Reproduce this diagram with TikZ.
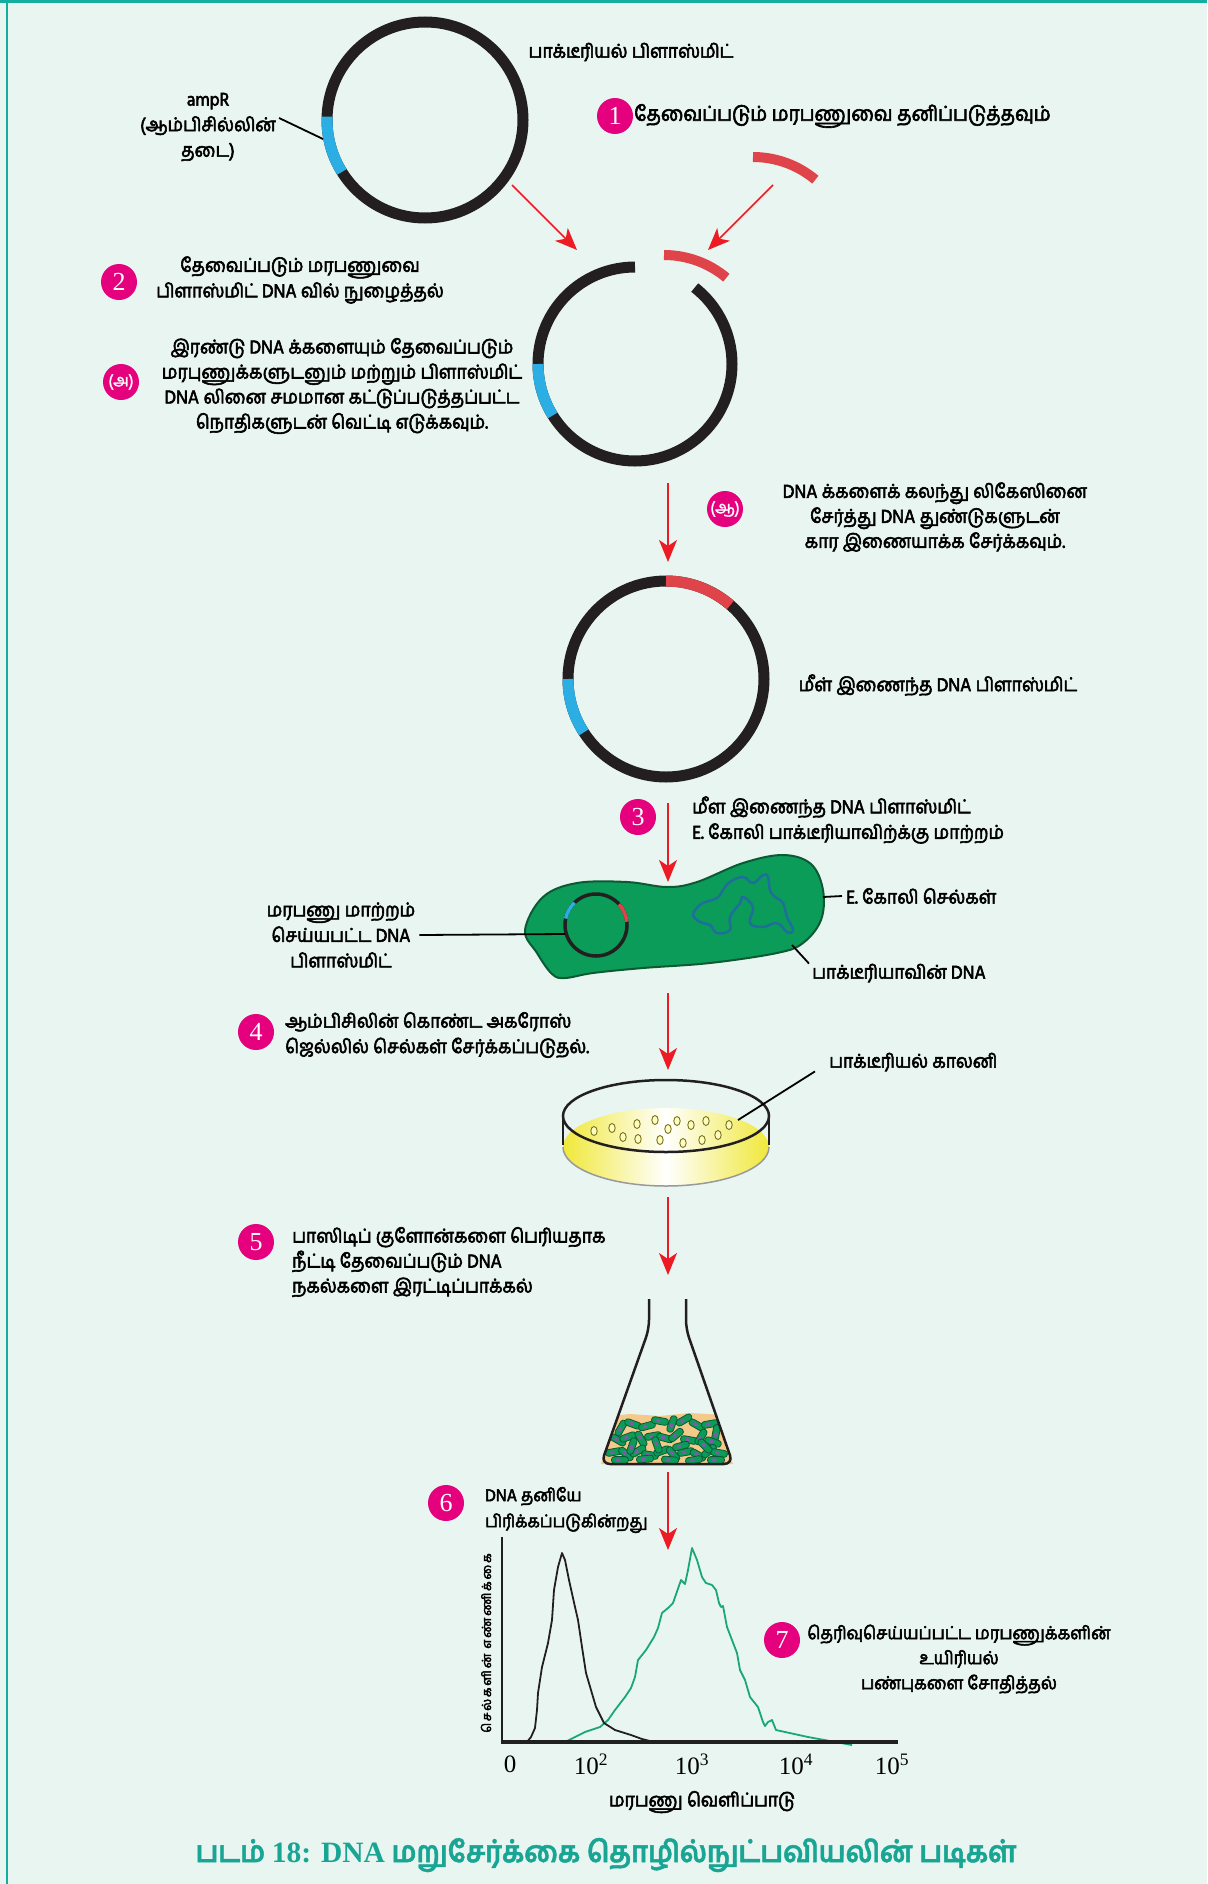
\documentclass[tikz,border=0pt]{standalone}
\usepackage{fontspec}
\setmainfont{Liberation Serif}
\newfontfamily\tamil[Script=Tamil,FakeStretch=0.92,FakeBold=3]{Hind Madurai}
\newfontfamily\tamilcap[Script=Tamil,FakeStretch=0.92,FakeBold=1.5]{Hind Madurai}
\newfontfamily\tamilaxis[Script=Tamil,LetterSpace=14,FakeBold=3]{Hind Madurai}
\usetikzlibrary{arrows.meta,positioning}

\definecolor{bgmint}{HTML}{E9F5F1}
\definecolor{frameteal}{HTML}{14AE9E}
\definecolor{dnablack}{HTML}{231F20}
\definecolor{insertred}{HTML}{E0444B}
\definecolor{amblue}{HTML}{2AAEE3}
\definecolor{arrowred}{HTML}{ED1C24}
\definecolor{stepmag}{HTML}{E5007E}
\definecolor{cellgreen}{HTML}{0A9C58}
\definecolor{celledge}{HTML}{0C5A33}
\definecolor{chromblue}{HTML}{1E6F9B}
\definecolor{agar}{HTML}{F0E83A}
\definecolor{broth}{HTML}{F4C98A}
\definecolor{rodpurple}{HTML}{7E5BA8}
\definecolor{curvegreen}{HTML}{19A77A}
\definecolor{captionteal}{HTML}{18A593}

\tikzset{
  txt/.style={font=\tamil\fontsize{19}{25.5}\selectfont, inner sep=0pt, align=center},
  ltxt/.style={txt, align=left, anchor=west},
  badge/.style={circle, fill=stepmag, text=white, minimum size=36pt, inner sep=0pt,
    font=\fontsize{26}{26}\selectfont},
  ring/.style={line width=11pt, draw=dnablack},
  arrowstep/.style={draw=arrowred, line width=1.6pt, -{Stealth[length=22pt,width=18pt,inset=6pt]}},
  leader/.style={draw=black, line width=1.8pt},
  colony/.style={draw=olive!80!black, fill=yellow!25, line width=0.9pt},
  rod/.style={draw=celledge, fill=cellgreen, line width=0.8pt, rounded corners=3pt},
}

\begin{document}
\begin{tikzpicture}[x=1pt, y=-1pt]
  % page and frame
  \fill[bgmint] (0,0) rectangle (1207,1884);
  \useasboundingbox (0,0) rectangle (1207,1884);
  \draw[frameteal, line width=3pt] (0,1.5) -- (1207,1.5);
  \draw[frameteal, line width=2.5pt] (7,0) -- (7,1884);

  % bacterial plasmid
  \coordinate (p1) at (425,120);
  \draw[ring] (p1) circle[radius=98pt];
  \draw[ring, amblue] (p1) ++(178:98pt) arc[start angle=178, end angle=212, radius=98pt];
  % isolated gene
  \draw[ring, insertred, line width=10pt] (753,254) ++(90:97pt) arc[start angle=90, end angle=50, radius=97pt];

  % opened plasmid with insert
  \coordinate (p2) at (635,364);
  \draw[ring] (p2) ++(90:97pt) arc[start angle=90, end angle=412, radius=97pt];
  \draw[ring, amblue] (p2) ++(180:97pt) arc[start angle=180, end angle=212, radius=97pt];
  \draw[ring, insertred, line width=10pt] (664,352) ++(90:97pt) arc[start angle=90, end angle=50, radius=97pt];

  % recombinant plasmid
  \coordinate (p3) at (666,679);
  \draw[ring] (p3) circle[radius=98pt];
  \draw[ring, insertred] (p3) ++(90:98pt) arc[start angle=90, end angle=49, radius=98pt];
  \draw[ring, amblue] (p3) ++(180:98pt) arc[start angle=180, end angle=213, radius=98pt];

  % E. coli cell
  \draw[fill=cellgreen, draw=celledge, line width=2pt] plot[smooth cycle, tension=0.6] coordinates {
    (525,930) (537,953) (552,974) (565,978) (593,973) (643,968) (710,963) (777,953)
    (803,943) (821,920) (823,890) (811,864) (783,855) (743,863) (697,882) (667,887)
    (627,882) (577,883) (543,897)};
  \draw[chromblue, line width=2.5pt] plot[smooth cycle, tension=0.7] coordinates {
    (697,908) (703,903) (717,898) (723,890) (730,882) (743,877) (753,883) (763,875)
    (768,877) (770,890) (775,897) (783,903) (787,917) (793,930) (787,932) (777,923)
    (763,927) (750,923) (753,907) (743,897) (740,903) (730,917) (730,930) (717,933)
    (710,925) (700,922) (693,915)};
  \coordinate (p4) at (596,925);
  \draw[dnablack, line width=3.5pt] (p4) circle[radius=31pt];
  \draw[amblue, line width=3.5pt] (p4) ++(134:31pt) arc[start angle=134, end angle=168, radius=31pt];
  \draw[insertred, line width=3.5pt] (p4) ++(6:31pt) arc[start angle=6, end angle=42, radius=31pt];

  % petri dish
  \shade[left color=agar, right color=agar, middle color=white] (666,1147) ellipse[x radius=103pt, y radius=39pt];
  \draw[gray!80, line width=1.5pt] (563,1147) arc[start angle=180, end angle=360, x radius=103pt, y radius=39pt];
  \foreach \x/\y in {594/1131, 612/1128, 637/1124, 655/1120, 677/1121, 668/1129, 691/1125, 706/1121,
      729/1125, 623/1137, 638/1139, 660/1140, 683/1143, 702/1140, 718/1135}
    \draw[colony] (\x,\y) ellipse[x radius=3.2pt, y radius=4.5pt];
  \draw[dnablack, line width=2.5pt] (666,1116) ellipse[x radius=103pt, y radius=36pt];
  \draw[dnablack, line width=2.5pt] (563,1116) -- (563,1145);
  \draw[dnablack, line width=2.5pt] (769,1116) -- (769,1145);

  % flask with culture
  \begin{scope}
    \clip (649,1329) -- (601,1464) -- (733,1464) -- (686,1329) -- cycle;
    \fill[broth] (600,1417) -- (630,1414) -- (660,1416) -- (690,1413) -- (740,1416) -- (740,1470) -- (600,1470) -- cycle;
    \foreach \x/\y/\a in {621/1428/60, 633/1424/-20, 647/1426/15, 660/1421/-10, 672/1424/70,
        684/1420/30, 697/1425/-30, 710/1424/10, 716/1433/80, 618/1440/-30, 628/1437/20,
        641/1439/-60, 653/1436/10, 665/1438/-15, 676/1435/40, 689/1440/-10, 701/1437/60,
        713/1442/-20, 614/1452/10, 626/1454/-40, 638/1451/30, 650/1455/-10, 662/1451/20,
        673/1454/-50, 686/1452/10, 698/1455/-30, 709/1451/40, 719/1453/-10, 632/1446/70,
        657/1445/-70, 681/1446/15, 705/1446/-45, 645/1459/5, 670/1460/-5, 694/1460/10,
        620/1460/0, 716/1460/0}
    {
      \begin{scope}[shift={(\x,\y)}, rotate=\a]
        \draw[rod] (-8.5,-3.4) rectangle (8.5,3.4);
        \fill[rodpurple, rounded corners=1pt] (-4,-1.6) rectangle (0.5,1.6);
      \end{scope}
    }
  \end{scope}
  \draw[dnablack, line width=2.5pt, rounded corners=9pt]
    (649,1299) -- (649,1329) -- (601,1464) -- (733,1464) -- (686,1329) -- (686,1299);

  % histogram of expression
  \draw[dnablack, line width=2pt] (502,1537) -- (502,1742);
  \draw[curvegreen, line width=1.8pt, line join=round] plot coordinates {
    (565,1742) (585,1732) (600,1727) (608,1720) (615,1710) (625,1697) (631,1688) (635,1677)
    (638,1660) (646,1650) (654,1637) (658,1628) (662,1613) (668,1608) (673,1603) (681,1580)
    (685,1584) (688,1570) (692,1548) (697,1560) (702,1577) (706,1583) (712,1585) (716,1590)
    (719,1603) (721,1607) (723,1606) (727,1627) (732,1640) (737,1653) (740,1670) (745,1680)
    (750,1697) (758,1707) (763,1722) (765,1726) (768,1722) (772,1720) (776,1730) (808,1737)
    (852,1745)};
  \draw[dnablack, line width=1.8pt, line join=round] plot coordinates {
    (527,1742) (531,1737) (535,1728) (537,1710) (538,1693) (542,1667) (548,1643) (552,1620)
    (554,1590) (558,1567) (562,1553) (565,1560) (569,1580) (575,1607) (578,1620) (582,1647)
    (586,1673) (591,1690) (596,1707) (604,1723) (615,1730) (631,1735) (642,1739) (650,1741)
    (660,1742)};
  \draw[gray!25!black, line width=4pt] (501,1742) -- (898,1742);
  \node[font=\fontsize{25}{25}\selectfont, inner sep=0pt] (tick0) at (510,1764) {0};
  \node[font=\fontsize{25}{25}\selectfont, inner sep=0pt] (tick2) at (591,1764) {10\textsuperscript{2}};
  \node[font=\fontsize{25}{25}\selectfont, inner sep=0pt] (tick3) at (692,1764) {10\textsuperscript{3}};
  \node[font=\fontsize{25}{25}\selectfont, inner sep=0pt] (tick4) at (796,1764) {10\textsuperscript{4}};
  \node[font=\fontsize{25}{25}\selectfont, inner sep=0pt] (tick5) at (892,1764) {10\textsuperscript{5}};

  % arrows between the steps
  \coordinate (plasout) at (512,185);
  \coordinate (plasin) at (577,250);
  \coordinate (geneout) at (773,185);
  \coordinate (genein) at (708,250);
  \coordinate (cutout) at (668,483);
  \coordinate (ligin) at (668,562);
  \coordinate (ligout) at (668,803);
  \coordinate (cellin) at (668,882);
  \coordinate (cellout) at (668,993);
  \coordinate (dishin) at (668,1070);
  \coordinate (dishout) at (668,1197);
  \coordinate (flaskin) at (668,1275);
  \coordinate (flaskout) at (668,1472);
  \coordinate (graphin) at (668,1550);
  \draw[arrowstep] (plasout) -- (plasin);
  \draw[arrowstep] (geneout) -- (genein);
  \draw[arrowstep] (cutout) -- (ligin);
  \draw[arrowstep] (ligout) -- (cellin);
  \draw[arrowstep] (cellout) -- (dishin);
  \draw[arrowstep] (dishout) -- (flaskin);
  \draw[arrowstep] (flaskout) -- (graphin);

  % labels
  \node[txt] (bplas) at (631,52) {பாக்டீரியல் பிளாஸ்மிட்};
  \node[txt] (amp) at (208,127) {ampR\\(ஆம்பிசில்லின்\\தடை)};
  \node[badge] (s1) at (615,116) {1};
  \node[ltxt, font=\tamil\fontsize{20.5}{26}\selectfont] (t1) at (634,116) {தேவைப்படும் மரபணுவை தனிப்படுத்தவும்};
  \node[badge] (s2) at (119,282) {2};
  \node[txt] (t2) at (300,280) {தேவைப்படும் மரபணுவை\\பிளாஸ்மிட் DNA வில் நுழைத்தல்};
  \node[badge, font=\tamilcap\fontsize{17}{17}\selectfont] (sa) at (121,382) {(அ)};
  \node[txt, font=\tamil\fontsize{19}{25}\selectfont] (ta) at (342,386) {இரண்டு DNA க்களையும் தேவைப்படும்\\மரபுணுக்களுடனும் மற்றும் பிளாஸ்மிட்\\DNA லினை சமமான கட்டுப்படுத்தப்பட்ட\\நொதிகளுடன் வெட்டி எடுக்கவும்.};
  \node[badge, font=\tamilcap\fontsize{17}{17}\selectfont] (sb) at (725,509) {(ஆ)};
  \node[txt, font=\tamil\fontsize{19}{25}\selectfont] (tb) at (935,517) {DNA க்களைக் கலந்து லிகேஸினை\\சேர்த்து DNA துண்டுகளுடன்\\கார இணையாக்க சேர்க்கவும்.};
  \node[txt] (rplas) at (938,685) {மீள் இணைந்த DNA பிளாஸ்மிட்};
  \node[badge] (s3) at (638,817) {3};
  \node[ltxt] (t3) at (692,820) {மீள இணைந்த DNA பிளாஸ்மிட்\\E. கோலி பாக்டீரியாவிற்க்கு மாற்றம்};
  \node[ltxt] (ecoli) at (846,896) {E. கோலி செல்கள்};
  \node[ltxt] (bdna) at (812,973) {பாக்டீரியாவின் DNA};
  \node[txt] (tplas) at (341,935) {மரபணு மாற்றம்\\செய்யபட்ட DNA\\பிளாஸ்மிட்};
  \node[badge] (s4) at (256,1032) {4};
  \node[ltxt] (t4) at (285,1035) {ஆம்பிசிலின் கொண்ட அகரோஸ்\\ஜெல்லில்  செல்கள் சேர்க்கப்படுதல்.};
  \node[ltxt] (colony) at (829,1062) {பாக்டீரியல் காலனி};
  \node[badge] (s5) at (256,1242) {5};
  \node[ltxt, font=\tamil\fontsize{19}{25}\selectfont] (t5) at (292,1262) {பாஸிடிப் குளோன்களை பெரியதாக\\நீட்டி தேவைப்படும் DNA\\நகல்களை இரட்டிப்பாக்கல்};
  \node[badge] (s6) at (446,1503) {6};
  \node[ltxt, font=\tamil\fontsize{17.5}{26}\selectfont] (t6) at (485,1510) {DNA தனியே\\பிரிக்கப்படுகின்றது};
  \node[badge] (s7) at (782,1640) {7};
  \node[txt, font=\tamil\fontsize{18}{25}\selectfont] (t7) at (959,1659) {தெரிவுசெய்யப்பட்ட மரபணுக்களின்\\உயிரியல்\\பண்புகளை சோதித்தல்};
  \node[font=\tamilaxis\fontsize{12.5}{12.5}\selectfont, rotate=90, inner sep=0pt] (ylab) at (486,1643) {செல்களின் எண்ணிக்கை};
  \node[txt] (xlab) at (702,1802) {மரபணு வெளிப்பாடு};

  % leader lines
  \coordinate (ampmark) at (323,139);
  \coordinate (cellmark) at (823,897);
  \coordinate (chrommark) at (792,945);
  \coordinate (plasmark) at (565,934);
  \coordinate (colonymark) at (738,1120);
  \draw[leader] ([shift={(3,-9)}]amp.east) -- (ampmark);
  \draw[leader] (cellmark) -- ([xshift=-4pt]ecoli.west);
  \draw[leader] (chrommark) -- ([xshift=-3pt]bdna.north west);
  \draw[leader] ([xshift=4pt]tplas.east) -- (plasmark);
  \draw[leader] ([xshift=-14pt]colony.south west) -- (colonymark);

  % caption
  \node[font=\tamilcap\bfseries\fontsize{29.5}{30}\selectfont, text=captionteal, inner sep=0pt] (cap) at (606,1855)
    {படம் {\rmfamily 18: DNA} மறுசேர்க்கை தொழில்நுட்பவியலின் படிகள்};
\end{tikzpicture}
\end{document}
